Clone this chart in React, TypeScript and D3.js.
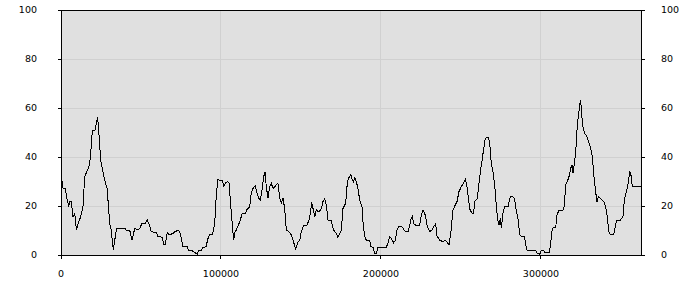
import React from "react";
import * as d3 from "d3";

const xValues: number[] = [
  0, 600, 1250, 2700, 3900, 4800, 5600, 6400, 7500, 8600, 9600, 10600, 12300, 13750, 14800, 15800, 17300, 18300,
  19600, 21100, 22100, 22900, 23600, 24800, 26250, 27300, 28750, 29800, 30400, 31400, 32700, 33600, 34800, 39800,
  40800, 42900, 44400, 46100, 47700, 49200, 50600, 52700, 53900, 55400, 56400, 59600, 60600, 63100, 64400, 65200,
  66400, 67500, 70000, 71100, 73600, 74800, 76250, 78900, 79800, 81400, 83600, 85200, 86100, 87700, 88750, 90600,
  91900, 92900, 94600, 95400, 96250, 97100, 98100, 99600, 100800, 101700, 102900, 104400, 105000, 106400, 107900,
  108600, 109600, 111700, 113300, 115400, 116250, 117900, 118900, 120000, 121400, 122500, 123750, 124600, 125800,
  126700, 127500, 128300, 129400, 130400, 131400, 132500, 133600, 134600, 135600, 136700, 137700, 138750, 139800,
  140800, 142500, 143900, 145000, 146700, 148100, 149200, 150200, 151700, 153750, 155000, 155800, 156700, 157500,
  158600, 159600, 160600, 161700, 162700, 163750, 164800, 165800, 166900, 168900, 170400, 171700, 173100, 174200,
  175200, 176250, 177900, 178750, 179600, 180400, 181100, 181900, 182700, 183600, 184600, 185600, 186700, 188100,
  188900, 189800, 190800, 192900, 193600, 195000, 196100, 197100, 198100, 203300, 204400, 205400, 206400, 207900,
  208900, 210000, 211100, 212700, 213750, 215200, 216900, 217900, 218900, 219600, 220400, 221700, 224200, 225200,
  226250, 227700, 228900, 230400, 231900, 233100, 234200, 235000, 236700, 238750, 239800, 241250, 242500, 243600,
  245000, 246100, 247500, 248750, 250200, 251700, 252700, 253750, 254800, 255600, 256900, 257900, 258600, 260200,
  261250, 262300, 263300, 263900, 265200, 266900, 267900, 268900, 270200, 271250, 272100, 272900, 273750, 274600,
  275200, 276250, 277300, 279400, 280400, 281400, 282900, 283600, 284600, 285600, 286700, 287700, 289800, 290400,
  291400, 296700, 297700, 299200, 300200, 301700, 302300, 305000, 305800, 307100, 309200, 310000, 311100, 314200,
  314800, 315400, 316400, 317500, 318600, 319400, 320000, 320800, 321700, 322500, 323300, 324200, 324800, 325400,
  326250, 327300, 328750, 330000, 330800, 332100, 332900, 334000, 335000, 335800, 337100, 339200, 340400, 341250,
  342500, 343300, 345400, 346100, 347100, 349200, 350600, 351250, 351900, 352700, 353750, 354600, 355400, 356100,
  357100, 362500,
];

const yValues: number[] = [
  30.5, 30.2, 27.3, 27, 22.4, 20, 21.8, 21.8, 15.6, 17, 10.2, 12.7, 15.6, 20, 31.8, 33.6, 35.5, 39.2,
  50.7, 50.7, 53.7, 56.2, 50.3, 38.8, 34, 30.6, 27.2, 19, 12.9, 10.2, 2, 6.1, 10.9, 10.9,
  10.2, 10.2, 6.1, 10.9, 10.2, 10.9, 12.9, 13, 14.3, 12.2, 9.5, 9.1, 7.5, 7.3, 4.1, 4.1,
  9.1, 8.2, 8.8, 9.5, 10.2, 8.2, 3.4, 3.3, 2, 2, 0.95, 0.4, 2, 2, 3.1, 3.4,
  6.8, 8.2, 8.2, 10.2, 15, 25.2, 30.9, 30.3, 30.3, 28.2, 29.5, 29.9, 29.3, 17.7, 6.1,
  9.1, 10.2, 13.6, 17, 17, 18.6, 19.7, 25.2, 27.2, 28.2, 25.2, 23.1, 22.4, 27.2,
  32, 34, 27.9, 23.1, 27.9, 29.3, 27.2, 27.9, 28.6, 29.3, 23.1, 21.1, 23.1, 19,
  10.2, 9.5, 8.2, 6.1, 2.3, 5.4, 5.8, 9.5, 12.2, 12.2, 14.3, 17, 21.4, 19,
  15.6, 18.4, 17.7, 18, 19, 21.8, 23.1, 20.4, 14.3, 14, 10.2, 9.1, 7.2, 8.8,
  10.2, 19, 21.1, 27.9, 31.3, 32, 32.9, 30.9, 29.9, 31.7, 29.9, 27.2, 22.4, 19.7,
  12.2, 7.5, 6.1, 6, 3.4, 3.1, 0.7, 0.8, 3.1, 3.1, 5, 7.5, 6.8, 5,
  5.8, 10.2, 11.8, 11.8, 10.9, 9.5, 9.5, 11.8, 15, 15.9, 12.7, 12.2, 12.2, 16.3,
  18.4, 16.3, 11.6, 9.5, 10.2, 11.8, 12.7, 7.8, 6.1, 5.4, 6.1, 5.4, 4.1, 8.8,
  18.4, 20, 21.8, 25.9, 27.9, 29.5, 30.9, 27.9, 22.4, 18.6, 17, 17, 21.8, 23.1,
  29.3, 35, 39, 42.2, 47.6, 48, 46.3, 37.4, 33.3, 27, 19.7, 14.3, 12.2, 15,
  10.9, 17, 19.7, 19.7, 23.1, 24.1, 23.5, 22.4, 17.7, 15, 8.2, 7.5, 7.5, 4.1,
  1.8, 1.8, 0.7, 0.3, 1.8, 1.8, 0.95, 0.95, 3.4, 10.9, 11.3, 16.3, 18.1, 18.4,
  22.4, 28.6, 29.9, 32, 35.4, 36.7, 33.6, 37.1, 42.2, 51, 56.5, 61.2, 63.3, 57.1,
  52.4, 49.7, 48.3, 45.6, 44.2, 40.1, 33.3, 26.5, 21.8, 23.8, 23.1, 21.8, 19.7, 16.3,
  9.5, 8.2, 8.2, 10.5, 14, 14, 15, 15.9, 21.1, 24.5, 26.8, 29.9, 34, 33.3,
  27.9, 27.9,
];

const yTicks: number[] = [0, 20, 40, 60, 80, 100];
const xTicks: number[] = [0, 100000, 200000, 300000];
const xMax = 362500;

export default function App() {
  const left = 61;
  const right = 641;
  const top = 10;
  const bottom = 255;
  const x = d3.scaleLinear().domain([0, xMax]).range([left, right]);
  const y = d3.scaleLinear().domain([0, 100]).range([bottom, top]);
  const data = xValues.map((v, i) => [v, yValues[i]] as [number, number]);
  const line = d3
    .line<[number, number]>()
    .x((d) => x(d[0]))
    .y((d) => y(d[1]));
  const px = (v: number) => Math.round(v) + 0.5;
  const font = "DejaVu Sans, Verdana, sans-serif";

  return (
    <svg
      width={700}
      height={300}
      style={{ position: "fixed", left: 0, top: 0, background: "#ffffff" }}
    >
      <rect x={left} y={top} width={right - left} height={bottom - top} fill="#e0e0e0" />
      {yTicks
        .filter((t) => t > 0 && t < 100)
        .map((t) => (
          <line key={"gy" + t} x1={left} x2={right} y1={px(y(t))} y2={px(y(t))} stroke="#d0d0d0" strokeWidth={1} />
        ))}
      {xTicks
        .filter((t) => t > 0)
        .map((t) => (
          <line key={"gx" + t} x1={px(x(t)) - 1} x2={px(x(t)) - 1} y1={top} y2={bottom} stroke="#d0d0d0" strokeWidth={1} />
        ))}
      <path d={line(data) || ""} fill="none" stroke="#000" strokeWidth={1} shapeRendering="crispEdges" />
      <rect
        x={left + 0.5}
        y={top + 0.5}
        width={right - left}
        height={bottom - top}
        fill="none"
        stroke="#000"
        strokeWidth={1}
      />
      {yTicks.map((t) => (
        <g key={"ly" + t}>
          <line x1={left - 3} x2={left} y1={px(y(t))} y2={px(y(t))} stroke="#000" />
          <line x1={right + 1} x2={right + 4} y1={px(y(t))} y2={px(y(t))} stroke="#000" />
          <text x={37} y={y(t)} dy="0.35em" textAnchor="end" fontFamily={font} fontSize={9.5} fill="#000">
            {t}
          </text>
          <text x={661} y={y(t)} dy="0.35em" textAnchor="start" fontFamily={font} fontSize={9.5} fill="#000">
            {t}
          </text>
        </g>
      ))}
      {xTicks.map((t) => (
        <g key={"lx" + t}>
          <line x1={px(x(t)) - (t > 0 ? 1 : 0)} x2={px(x(t)) - (t > 0 ? 1 : 0)} y1={bottom} y2={bottom + 4} stroke="#000" />
          <text x={x(t)} y={277} textAnchor="middle" fontFamily={font} fontSize={9.5} fill="#000">
            {t}
          </text>
        </g>
      ))}
    </svg>
  );
}
